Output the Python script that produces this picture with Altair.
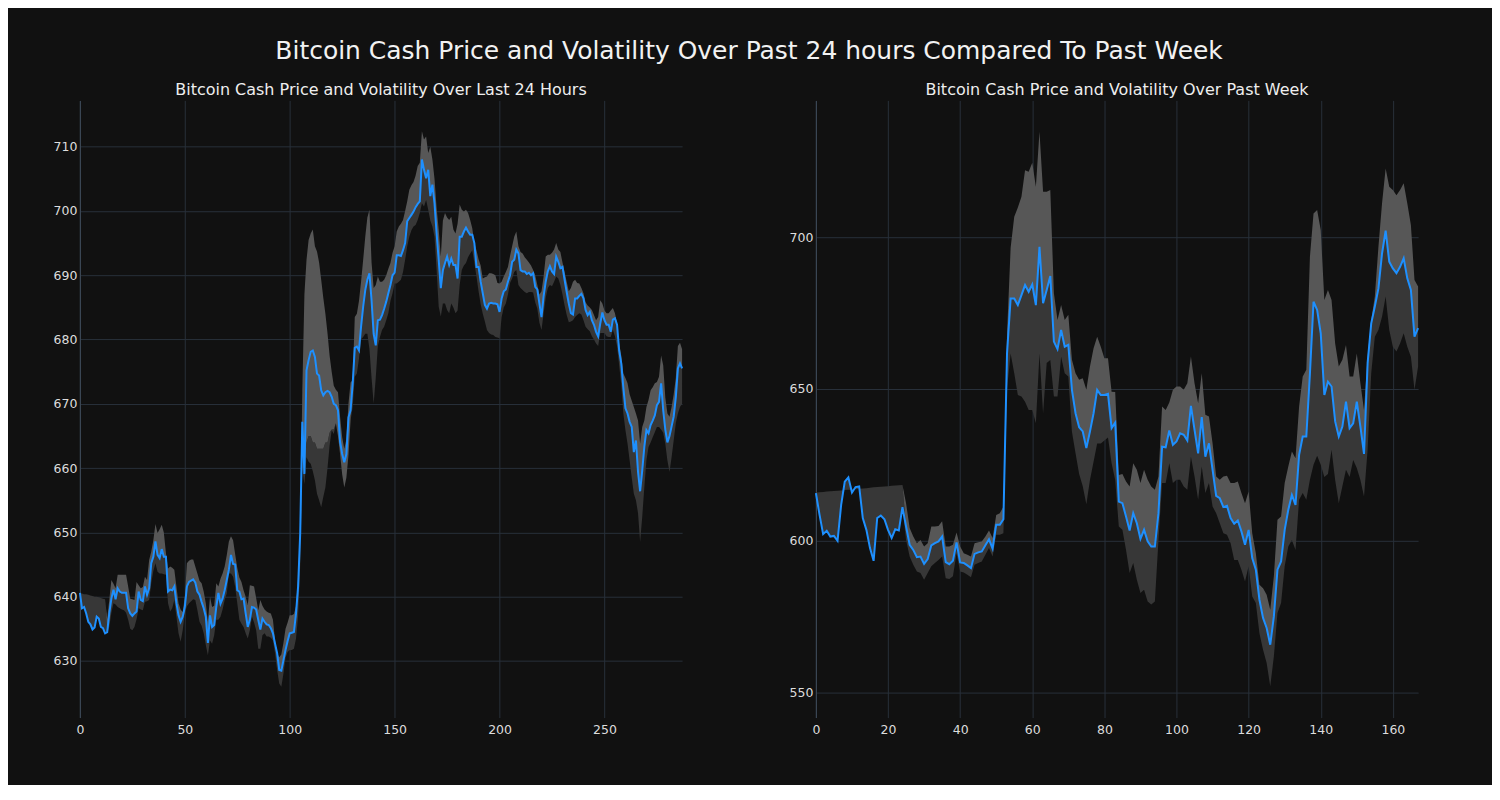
import altair as alt
import pandas as pd

# ---------------- data: last 24 hours (5-minute steps) ----------------
DAY_PRICE = [
    640.6, 638.2, 638.4, 637.4, 636.1, 635.7, 634.9, 635.2, 636.9, 636.6,
    635.3, 635.1, 634.3, 634.5, 637.4, 639.7, 641.1, 639.6, 641.3, 640.8,
    640.6, 640.6, 640.6, 638.2, 637.4, 637.0, 637.4, 637.7, 640.8, 639.5,
    639.3, 641.6, 640.3, 641.3, 645.2, 646.2, 648.6, 646.5, 646.0, 647.4,
    646.2, 646.2, 640.8, 641.1, 641.0, 641.6, 639.0, 637.1, 636.1, 636.9,
    638.4, 641.6, 642.3, 642.5, 642.7, 642.2, 640.8, 640.3, 639.2, 638.2,
    636.9, 632.8, 637.1, 635.3, 635.6, 638.4, 640.6, 638.9, 639.7, 641.0,
    642.6, 644.2, 646.5, 645.1, 645.0, 641.0, 640.8, 639.6, 639.7, 637.4,
    635.3, 636.4, 638.4, 638.3, 638.0, 636.4, 634.9, 636.6, 636.1, 635.7,
    635.6, 635.1, 634.3, 632.7, 631.2, 628.6, 628.5, 630.1, 631.7, 633.1,
    634.3, 634.4, 634.5, 637.4, 641.6, 649.9, 667.2, 659.1, 675.2, 676.8,
    678.1, 678.3, 677.3, 674.7, 674.4, 672.1, 671.3, 671.8, 672.0, 671.8,
    671.1, 670.0, 669.8, 669.0, 664.1, 662.2, 660.9, 662.2, 667.9, 669.0,
    673.1, 678.7, 678.9, 678.3, 682.0, 685.1, 687.7, 689.3, 690.3, 686.1,
    680.9, 679.1, 683.0, 683.1, 683.8, 684.8, 685.9, 687.2, 688.5, 690.0,
    690.4, 693.1, 693.1, 693.0, 693.9, 695.0, 698.4, 698.9, 699.4, 699.9,
    700.6, 701.1, 701.5, 708.0, 706.4, 705.1, 706.4, 702.3, 704.1, 701.2,
    696.5, 692.4, 688.0, 690.8, 691.9, 692.9, 691.6, 692.6, 691.6, 691.6,
    689.5, 696.0, 696.0, 696.8, 697.4, 696.8, 696.3, 696.3, 695.0, 691.3,
    691.3, 689.0, 687.2, 685.4, 684.8, 685.6, 685.7, 685.6, 685.6, 685.5,
    684.3, 686.4, 687.5, 687.8, 689.0, 690.0, 692.1, 692.4, 694.0, 693.4,
    690.8, 690.6, 690.6, 690.2, 690.4, 690.0, 690.3, 688.2, 687.8, 685.6,
    683.5, 686.7, 689.0, 690.6, 691.4, 690.6, 690.2, 692.9, 692.1, 691.1,
    691.3, 689.3, 687.4, 685.6, 684.1, 683.9, 686.4, 686.4, 686.8, 687.1,
    686.4, 684.6, 683.8, 684.3, 683.0, 682.3, 681.2, 680.5, 682.5, 684.2,
    683.0, 682.3, 682.3, 681.2, 683.1, 683.3, 682.3, 678.3, 676.3, 672.5,
    669.3, 668.5, 667.2, 666.4, 662.5, 664.3, 659.4, 656.4, 659.6, 663.3,
    665.9, 665.4, 666.7, 667.4, 668.2, 669.8, 670.3, 673.2, 669.0, 666.0,
    664.0, 665.0, 666.5, 668.0, 671.0, 675.5, 676.3, 675.5,
]
DAY_UPPER = [
    640.6, 640.5, 640.4, 640.4, 640.3, 640.2, 640.1, 640.0, 640.0, 639.9,
    639.8, 639.7, 639.6, 636.5, 639.5, 642.6, 642.0, 641.3, 643.4, 643.4,
    643.4, 643.4, 643.4, 641.6, 639.7, 639.6, 639.5, 642.3, 641.8, 641.3,
    641.5, 643.1, 642.6, 645.7, 647.0, 648.8, 651.3, 649.9, 650.5, 651.2,
    650.0, 646.8, 644.4, 644.7, 644.5, 644.2, 641.6, 639.0, 638.0, 637.6,
    640.0, 645.2, 645.6, 645.8, 645.8, 644.7, 643.6, 642.5, 642.1, 640.8,
    639.0, 636.1, 640.0, 638.4, 638.6, 642.1, 641.6, 642.8, 643.6, 644.7,
    646.5, 648.6, 649.4, 648.8, 646.6, 644.5, 643.0, 642.3, 641.0, 640.0,
    638.7, 641.8, 641.7, 641.6, 639.8, 637.9, 639.5, 638.6, 638.0, 637.7,
    637.5, 637.4, 636.4, 633.2, 631.2, 630.6, 631.0, 632.8, 635.0, 636.0,
    637.1, 637.1, 637.3, 638.5, 643.0, 651.0, 672.0, 687.0, 692.4, 695.5,
    696.5, 697.1, 694.5, 693.7, 692.0, 689.3, 686.5, 684.0, 681.0, 677.5,
    675.0, 672.8, 672.2, 671.8, 668.0, 664.8, 663.0, 664.5, 670.0, 673.3,
    673.7, 683.5, 684.0, 686.0, 689.0, 692.4, 696.0, 699.0, 700.2, 692.0,
    688.0, 688.5, 689.8, 689.0, 689.0, 689.3, 690.0, 691.0, 691.9, 693.5,
    694.5, 696.8, 697.6, 698.0, 698.6, 700.0, 701.5, 703.3, 704.0, 704.5,
    705.5, 707.0, 707.5, 712.4, 711.1, 711.6, 709.0, 710.0, 708.0, 705.0,
    700.5, 697.1, 692.9, 698.5, 699.7, 699.0, 698.6, 699.1, 697.1, 696.5,
    698.0, 701.0, 700.2, 699.9, 700.2, 699.7, 698.6, 697.3, 695.0, 693.9,
    692.5, 691.5, 689.5, 689.7, 689.8, 690.3, 690.3, 690.2, 690.0, 688.8,
    688.7, 689.0, 689.8, 690.5, 691.3, 693.0, 694.5, 696.0, 696.8, 694.5,
    693.6, 693.4, 692.8, 692.4, 692.0, 691.5, 690.8, 690.0, 688.5, 687.0,
    687.5, 689.8, 692.9, 693.2, 693.2, 693.5, 694.0, 695.0, 694.0, 693.6,
    692.0, 690.5, 689.0, 687.5, 688.0, 689.0, 689.3, 688.8, 688.7, 688.0,
    687.2, 685.8, 685.3, 685.0, 684.6, 683.8, 683.0, 683.5, 686.1, 685.6,
    684.5, 684.1, 684.1, 684.5, 684.9, 684.1, 682.5, 679.4, 677.5, 674.7,
    674.0, 673.2, 671.5, 670.5, 669.5, 668.5, 667.4, 663.8, 666.4, 667.4,
    669.5, 670.6, 672.1, 672.6, 673.2, 673.4, 674.2, 677.5, 676.0, 671.0,
    668.5, 668.0, 669.5, 671.5, 674.0, 679.0, 679.5, 678.5,
]
DAY_LOWER = [None] * 13 + [
    634.3, 635.3, 637.5, 639.0, 638.8, 638.4, 638.2,
    638.0, 637.9, 637.5, 636.4, 635.0, 634.8, 635.3, 636.5, 638.2, 638.0,
    637.9, 639.2, 639.3, 639.5, 642.1, 644.0, 645.2, 643.9, 643.6, 643.6,
    643.5, 643.4, 639.0, 637.7, 638.2, 639.5, 636.9, 634.3, 633.0, 634.8,
    637.4, 638.5, 639.0, 639.3, 639.6, 639.5, 637.9, 636.1, 635.5, 634.3,
    632.5, 630.9, 633.2, 632.7, 634.0, 636.4, 636.4, 636.9, 638.0, 639.5,
    640.5, 643.6, 643.6, 643.1, 641.5, 639.0, 636.4, 635.8, 635.3, 634.3,
    633.5, 634.8, 636.9, 636.0, 634.8, 631.9, 631.9, 634.0, 634.3, 633.8,
    633.8, 633.6, 633.2, 631.2, 628.6, 626.5, 626.0, 628.0, 630.5, 631.4,
    631.7, 631.7, 631.9, 633.5, 637.0, 645.0, 660.0, 657.5, 661.7, 661.0,
    660.7, 659.5, 658.1, 656.0, 655.0, 653.9, 655.5, 657.0, 660.0, 663.5,
    665.9, 665.3, 667.0, 665.0, 662.2, 659.0, 657.0, 658.5, 662.0, 667.4,
    669.5, 674.2, 674.7, 677.0, 680.0, 680.4, 680.9, 680.9, 678.5, 674.0,
    670.0, 674.0, 679.0, 680.4, 681.5, 682.0, 683.0, 684.1, 686.0, 687.2,
    688.7, 688.7, 689.0, 689.3, 690.5, 692.4, 694.5, 696.0, 697.0, 697.6,
    697.8, 698.6, 699.7, 701.2, 700.7, 701.7, 700.2, 698.5, 697.6, 696.0,
    690.8, 685.1, 683.6, 685.6, 685.6, 684.6, 684.1, 685.6, 685.0, 684.1,
    684.5, 688.5, 690.8, 691.5, 691.9, 692.8, 693.4, 693.9, 691.9, 689.8,
    687.5, 685.5, 684.0, 682.8, 681.5, 681.0, 680.8, 680.7, 680.4, 680.3,
    680.2, 683.5, 685.0, 685.6, 687.0, 688.8, 689.5, 690.5, 690.8, 688.5,
    688.0, 687.7, 687.4, 687.2, 687.4, 687.4, 687.3, 685.8, 684.8, 682.6,
    681.5, 684.0, 686.5, 688.0, 688.5, 688.3, 689.0, 689.8, 689.5, 688.5,
    687.0, 685.3, 683.8, 682.7, 682.8, 683.0, 683.5, 683.8, 684.1, 683.9,
    683.0, 682.0, 681.6, 681.3, 680.5, 680.0, 679.4, 679.0, 681.0, 681.0,
    681.0, 680.5, 680.4, 680.4, 681.5, 680.5, 679.0, 676.0, 673.0, 668.5,
    665.9, 663.8, 661.2, 658.5, 656.0, 655.0, 653.0, 648.5, 652.4, 657.0,
    661.2, 663.3, 664.0, 664.8, 665.6, 666.4, 666.4, 666.0, 665.5, 663.8,
    661.2, 659.4, 661.7, 664.3, 667.0, 668.5, 669.5, 670.0,
]
# where the lighter part of the band reaches below the price line
DAY_SPLIT = {
    106: 662, 107: 660, 108: 664, 109: 665, 110: 665, 111: 664, 112: 664,
    113: 663, 114: 663, 115: 663, 116: 663, 117: 664, 118: 664, 119: 665.5,
    120: 666, 121: 666, 122: 667, 123: 665, 124: 662.2, 125: 659, 126: 657,
    127: 658.5, 128: 662, 129: 667.4,
}

# ---------------- data: past week (hourly steps) ----------------
WEEK_PRICE = [
    615.7, 608.6, 602.2, 603.3, 601.4, 601.6, 600.0, 611.8, 619.5, 620.9,
    615.9, 617.7, 617.9, 607.5, 603.6, 597.6, 593.4, 607.5, 608.3, 607.1,
    603.6, 600.9, 603.8, 603.4, 611.1, 604.7, 598.7, 597.0, 594.6, 594.8,
    592.4, 594.0, 598.5, 599.2, 599.8, 601.4, 593.0, 592.3, 593.4, 599.5,
    592.9, 592.7, 591.9, 591.0, 595.7, 596.2, 596.5, 598.5, 600.5, 597.4,
    605.3, 605.3, 607.1, 661.7, 679.8, 679.8, 677.6, 680.9, 684.2, 682.0,
    684.4, 677.6, 696.8, 678.2, 682.6, 687.2, 665.6, 663.1, 669.4, 663.9,
    664.5, 649.7, 642.0, 637.4, 636.0, 630.5, 636.0, 642.0, 649.7, 648.0,
    648.0, 648.4, 637.1, 638.9, 612.9, 612.4, 608.0, 603.4, 609.1, 605.8,
    600.6, 603.6, 599.8, 598.1, 598.1, 609.1, 631.0, 630.8, 636.3, 631.6,
    632.7, 635.4, 634.9, 633.0, 644.4, 636.5, 628.8, 640.7, 627.7, 632.1,
    623.4, 614.8, 614.0, 611.1, 611.5, 607.5, 605.6, 606.7, 603.1, 598.7,
    603.6, 594.3, 590.5, 580.6, 574.6, 571.3, 565.8, 575.1, 590.5, 593.2,
    603.6, 610.2, 615.1, 611.8, 628.3, 634.3, 634.3, 655.0, 678.7, 676.0,
    668.3, 648.0, 652.4, 650.8, 639.3, 634.3, 637.6, 645.8, 637.1, 638.7,
    645.8, 637.6, 628.6, 658.5, 671.6, 677.1, 683.1, 694.6, 702.1, 691.9,
    689.7, 688.1, 690.2, 693.0, 686.4, 682.6, 667.2, 670.0,
]
WEEK_UPPER = [
    615.9, 616.0, 616.1, 616.2, 616.3, 616.4, 616.5, 616.6, 616.7, 616.8,
    616.9, 617.0, 617.1, 617.2, 617.3, 617.5, 617.6, 617.7, 617.8, 617.9,
    618.0, 618.1, 618.2, 618.3, 618.4, 612.4, 604.2, 601.4, 599.2, 600.3,
    598.1, 599.2, 604.7, 604.7, 604.9, 606.4, 598.1, 598.1, 598.7, 602.7,
    598.1, 595.9, 595.4, 594.8, 599.2, 599.5, 599.8, 601.4, 603.4, 600.9,
    608.5, 609.1, 611.3, 668.0, 696.5, 706.7, 709.7, 713.3, 722.0, 721.5,
    724.5, 716.6, 734.7, 714.9, 714.9, 715.5, 681.5, 672.7, 677.6, 672.7,
    674.4, 659.6, 655.2, 653.0, 653.5, 649.7, 657.4, 663.4, 667.2, 663.9,
    660.1, 660.1, 649.1, 649.0, 621.7, 622.0, 619.5, 617.9, 625.5, 623.4,
    619.0, 623.4, 620.1, 617.9, 616.8, 621.2, 644.2, 643.1, 645.5, 649.7,
    650.8, 650.8, 649.7, 651.9, 660.7, 651.9, 645.3, 655.2, 641.5, 640.9,
    632.1, 621.2, 620.1, 621.2, 621.4, 619.0, 619.0, 619.5, 615.7, 612.4,
    616.2, 602.5, 595.9, 585.5, 584.4, 582.2, 577.3, 588.3, 606.9, 608.0,
    619.0, 624.5, 629.4, 627.2, 644.2, 654.1, 656.3, 693.5, 707.8, 708.9,
    702.3, 679.3, 682.6, 679.3, 665.0, 657.4, 659.6, 664.5, 654.1, 654.1,
    661.7, 651.9, 643.1, 660.7, 672.7, 680.4, 696.8, 711.1, 722.6, 716.6,
    715.5, 713.8, 715.5, 717.7, 711.1, 704.0, 685.9, 683.7,
]
WEEK_LOWER = [None] * 25 + [
    600.3, 594.8, 592.1, 589.9, 589.4,
    587.2, 589.4, 591.6, 592.7, 593.7, 594.8, 587.7, 587.4, 588.3, 595.9,
    589.9, 589.6, 588.8, 588.0, 592.1, 592.7, 593.2, 595.4, 597.6, 594.8,
    602.0, 602.0, 602.5, 650.0, 661.7, 655.2, 648.0, 647.5, 645.8, 643.1,
    643.1, 638.7, 661.7, 642.0, 658.5, 659.5, 647.5, 647.5, 660.6, 655.2,
    654.1, 635.9, 628.8, 622.0, 618.0, 612.0, 620.0, 626.0, 632.0, 632.0,
    633.0, 634.0, 625.5, 620.0, 604.7, 603.6, 597.0, 589.4, 592.7, 587.2,
    582.8, 583.9, 580.0, 579.0, 580.0, 600.3, 619.0, 619.0, 625.5, 619.0,
    620.1, 620.1, 617.9, 616.8, 627.7, 621.2, 613.5, 624.5, 615.7, 619.0,
    611.3, 609.1, 605.8, 602.5, 602.0, 599.2, 593.7, 593.7, 590.5, 586.6,
    591.6, 581.7, 579.5, 569.6, 564.1, 559.8, 552.1, 561.9, 576.2, 579.5,
    591.6, 598.1, 600.3, 597.0, 613.5, 615.7, 613.5, 620.1, 625.0, 628.0,
    625.0, 621.0, 622.0, 630.0, 620.0, 612.4, 618.0, 623.4, 621.0, 626.6,
    624.0, 620.0, 614.6, 630.0, 655.2, 667.2, 669.4, 673.8, 680.4, 669.4,
    663.9, 662.3, 665.0, 668.3, 663.9, 660.6, 649.7, 657.4,
]
WEEK_SPLIT = {}

DAY_X_TICKS = [0, 50, 100, 150, 200, 250]
DAY_Y_TICKS = [630, 640, 650, 660, 670, 680, 690, 700, 710]
WEEK_X_TICKS = [0, 20, 40, 60, 80, 100, 120, 140, 160]
WEEK_Y_TICKS = [550, 600, 650, 700]

MAIN_TITLE = "Bitcoin Cash Price and Volatility Over Past 24 hours Compared To Past Week"
DAY_TITLE = "Bitcoin Cash Price and Volatility Over Last 24 Hours"
WEEK_TITLE = "Bitcoin Cash Price and Volatility Over Past Week"

# ---------------- styling ----------------
BG = "#111111"
LINE = "#1e90ff"
LIGHT = "#575757"
DARK = "#373737"
FONT = "DejaVu Sans"


def frame(price, upper, lower, split):
    rows = []
    for i, p in enumerate(price):
        if lower[i] is None:
            lo, mid = p, upper[i]
        else:
            lo, mid = lower[i], split.get(i, p)
        rows.append({"x": i, "price": p, "lo": lo, "mid": mid, "hi": upper[i]})
    return pd.DataFrame(rows)


def panel(df, title, xdom, xticks, ydom, yticks):
    base = alt.Chart(df)
    xs = alt.Scale(domain=xdom, nice=False, zero=False)
    ys = alt.Scale(domain=ydom, nice=False, zero=False)
    xa = alt.Axis(values=xticks, title=None, domain=False, grid=True, labelFlush=False)
    ya = alt.Axis(values=yticks, title=None, domain=True, grid=True)
    x = alt.X("x:Q", scale=xs, axis=xa)
    dark = base.mark_area(color=DARK, opacity=1).encode(
        x=x, y=alt.Y("lo:Q", scale=ys, axis=ya), y2="mid:Q")
    light = base.mark_area(color=LIGHT, opacity=1).encode(
        x=x, y=alt.Y("mid:Q", scale=ys, axis=ya), y2="hi:Q")
    line = base.mark_line(color=LINE, strokeWidth=2).encode(
        x=x, y=alt.Y("price:Q", scale=ys, axis=ya))
    return alt.layer(dark, light, line).properties(
        width=603, height=618,
        title=alt.TitleParams(text=title, fontSize=16, font=FONT, color="#eeeeee",
                              fontWeight="normal", anchor="middle", frame="group",
                              offset=2),
    )


left = panel(frame(DAY_PRICE, DAY_UPPER, DAY_LOWER, DAY_SPLIT), DAY_TITLE,
             [0, 287], DAY_X_TICKS, [621.2, 717.2], DAY_Y_TICKS)
right = panel(frame(WEEK_PRICE, WEEK_UPPER, WEEK_LOWER, WEEK_SPLIT), WEEK_TITLE,
              [0, 167], WEEK_X_TICKS, [541.8, 745.0], WEEK_Y_TICKS)

chart = alt.hconcat(left, right, spacing=103).properties(
    background=BG,
    padding={"left": 45, "top": 31, "right": 70, "bottom": 48},
    title=alt.TitleParams(text=MAIN_TITLE, fontSize=25, font=FONT, color="#f2f2f2",
                          fontWeight="normal", anchor="middle", offset=18, dx=11.5),
).configure_view(stroke=None).configure_axis(
    labelColor="#dddddd", labelFont=FONT, labelFontSize=12.5,
    gridColor="#28303a", gridWidth=1, tickSize=0, domainColor="#3a4654",
    domainWidth=1.2,
).configure_axisX(labelPadding=6).configure_axisY(labelPadding=3)

chart.save("out.html", embed_options={"renderer": "svg", "actions": False})
